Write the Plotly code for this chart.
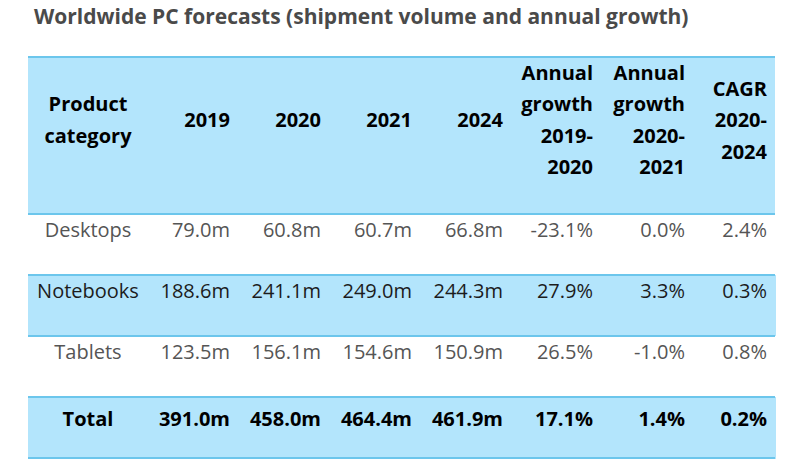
import plotly.graph_objects as go

title = "Worldwide PC forecasts (shipment volume and annual growth)"

header_labels = [
    ["Product", "category"],
    ["2019"],
    ["2020"],
    ["2021"],
    ["2024"],
    ["Annual", "growth", "2019-", "2020"],
    ["Annual", "growth", "2020-", "2021"],
    ["CAGR", "2020-", "2024"],
]

categories = ["Desktops", "Notebooks", "Tablets", "Total"]
vol_2019 = ["79.0m", "188.6m", "123.5m", "391.0m"]
vol_2020 = ["60.8m", "241.1m", "156.1m", "458.0m"]
vol_2021 = ["60.7m", "249.0m", "154.6m", "464.4m"]
vol_2024 = ["66.8m", "244.3m", "150.9m", "461.9m"]
growth_19_20 = ["-23.1%", "27.9%", "26.5%", "17.1%"]
growth_20_21 = ["0.0%", "3.3%", "-1.0%", "1.4%"]
cagr_20_24 = ["2.4%", "0.3%", "0.8%", "0.2%"]

BLUE = "#b3e5fc"
LINE_BLUE = "#6cc6ec"
WHITE = "#ffffff"
CLEAR = "rgba(0,0,0,0)"
row_fills = [WHITE, BLUE, WHITE, BLUE]
row_text = ["#555555", "#1c1c1c", "#555555", "#000000"]

columns = [categories, vol_2019, vol_2020, vol_2021, vol_2024,
           growth_19_20, growth_20_21, cagr_20_24]

W, H = 800, 467
LEFT, RIGHT, TOP = 28, 775, 57
HEADER_H, ROW_H = 157, 61
SUB = 10  # header is split into half-line sub rows to centre text blocks


def bold_last(col):
    return [v if i < len(col) - 1 else f"<b>{v}</b>" for i, v in enumerate(col)]


cell_values = [bold_last(c) for c in columns]

header_values = []
for lines in header_labels:
    n = len(lines)
    start = 4 - n
    col = [""] * SUB
    for i, ln in enumerate(lines):
        col[start + 2 * i] = ln
    header_values.append(col)

ncol = len(columns)
fig = go.Figure(
    go.Table(
        columnwidth=[120, 90, 91, 91, 91, 90, 92, 82],
        domain=dict(x=[LEFT / W, RIGHT / W], y=[0, 1 - TOP / H]),
        header=dict(
            values=header_values,
            align=["center"] + ["right"] * (ncol - 1),
            fill_color=CLEAR,
            line=dict(color=CLEAR, width=0),
            font=dict(family="Open Sans", size=20, color="#000000", weight="bold"),
            height=HEADER_H / SUB,
        ),
        cells=dict(
            values=cell_values,
            align=["center"] + ["right"] * (ncol - 1),
            fill_color=[row_fills] * ncol,
            line=dict(color=[row_fills] * ncol, width=1),
            font=dict(family="Open Sans", size=20, color=[row_text] * ncol),
            height=ROW_H,
        ),
    )
)

# header background
fig.add_shape(
    type="rect", xref="paper", yref="paper", layer="below",
    x0=LEFT / W, x1=RIGHT / W, y0=1 - (TOP + HEADER_H) / H, y1=1 - TOP / H,
    fillcolor=BLUE, line=dict(width=0),
)

# horizontal rules at row boundaries
bounds = [TOP, TOP + HEADER_H] + [TOP + HEADER_H + ROW_H * (i + 1) for i in range(len(categories))]
for yb in bounds:
    fig.add_shape(
        type="line", xref="paper", yref="paper",
        x0=LEFT / W, x1=RIGHT / W, y0=1 - yb / H, y1=1 - yb / H,
        line=dict(color=LINE_BLUE, width=2),
    )

fig.update_layout(
    width=W,
    height=H,
    margin=dict(l=0, r=0, t=0, b=0),
    paper_bgcolor="white",
    title=dict(
        text="<b>" + title + "</b>",
        x=34 / W,
        xanchor="left",
        y=1 - 17 / H,
        yanchor="middle",
        font=dict(family="Open Sans", size=21, color="#4a4a4a"),
    ),
)

fig.write_html(
    "out.html",
    config={"displayModeBar": False},
    post_script="document.body.style.margin='0';",
)
